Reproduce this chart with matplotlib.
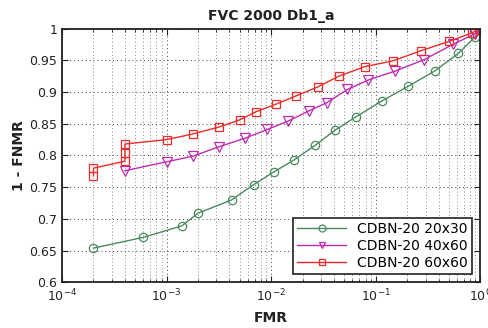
import matplotlib
matplotlib.use("Agg")
import matplotlib.pyplot as plt
from matplotlib.ticker import LogLocator, FixedLocator, FormatStrFormatter

plt.rcParams['font.family'] = ['DejaVu Sans']

fmr_20x30 = [2e-4, 6e-4, 1.4e-3, 2e-3, 4.2e-3, 6.8e-3, 0.0106, 0.0166, 0.0264, 0.041,
             0.065, 0.115, 0.205, 0.366, 0.62, 0.895, 1.0]
gar_20x30 = [0.654, 0.671, 0.689, 0.709, 0.730, 0.754, 0.774, 0.793, 0.816, 0.840,
             0.861, 0.886, 0.909, 0.933, 0.961, 0.987, 0.998]

fmr_40x60 = [4e-4, 1e-3, 1.8e-3, 3.2e-3, 5.6e-3, 9.2e-3, 0.0145, 0.0228, 0.034,
             0.0537, 0.0853, 0.154, 0.291, 0.548, 0.9, 1.0]
gar_40x60 = [0.776, 0.790, 0.799, 0.814, 0.827, 0.841, 0.854, 0.870, 0.883,
             0.904, 0.919, 0.933, 0.951, 0.975, 0.992, 1.0]

fmr_60x60 = [2e-4, 2e-4, 4e-4, 4e-4, 4e-4, 1e-3, 1.8e-3, 3.2e-3, 5e-3, 7.2e-3, 0.0112,
             0.0174, 0.028, 0.0445, 0.079, 0.146, 0.271, 0.508, 0.83, 1.0]
gar_60x60 = [0.768, 0.780, 0.791, 0.804, 0.818, 0.825, 0.834, 0.845, 0.856, 0.869, 0.881,
             0.894, 0.908, 0.925, 0.940, 0.949, 0.965, 0.980, 0.993, 1.0]

labels = ['CDBN-20 20x30', 'CDBN-20 40x60', 'CDBN-20 60x60']
y_ticks = [0.6, 0.65, 0.7, 0.75, 0.8, 0.85, 0.9, 0.95, 1.0]

fig = plt.figure(figsize=(4.88, 3.28), dpi=100)
ax = fig.add_axes([0.127, 0.139, 0.857, 0.774])

ax.plot(fmr_20x30, gar_20x30, '-o', color='#4a8a5e', mfc='none', mec='#4a8a5e',
        ms=6, lw=1, mew=0.9, label=labels[0])
ax.plot(fmr_40x60, gar_40x60, '-v', color='#c02cb0', mfc='none', mec='#c02cb0',
        ms=7, lw=1, mew=0.9, label=labels[1])
ax.plot(fmr_60x60, gar_60x60, '-s', color='#ee2a2a', mfc='none', mec='#ee2a2a',
        ms=6, lw=1, mew=0.9, label=labels[2])

ax.set_xscale('log')
ax.set_xlim(1e-4, 1)
ax.set_ylim(0.6, 1.0)
ax.xaxis.set_major_locator(LogLocator(base=10, numticks=10))
ax.xaxis.set_minor_locator(LogLocator(base=10, subs=range(2, 10), numticks=20))
ax.yaxis.set_major_locator(FixedLocator(y_ticks))
ax.yaxis.set_major_formatter(FormatStrFormatter('%g'))

ax.grid(True, which='major', axis='both', linestyle=(0, (1, 3)), color='#444444', lw=0.7)
ax.grid(True, which='minor', axis='x', linestyle=(0, (1, 3)), color='#666666', lw=0.6)
ax.tick_params(which='both', direction='in', top=True, right=True, labelsize=9,
               colors='#222222')
ax.tick_params(which='major', length=4)
ax.tick_params(which='minor', length=2)
for s in ax.spines.values():
    s.set_linewidth(1.3)
    s.set_color('#222222')

ax.set_title('FVC 2000 Db1_a', fontsize=10, fontweight='bold', color='#222222', pad=6)
ax.set_xlabel('FMR', fontsize=10, fontweight='bold', color='#222222', labelpad=5)
ax.set_ylabel('1 - FNMR', fontsize=10, fontweight='bold', color='#222222', labelpad=2)

leg = ax.legend(loc='lower right', fontsize=10, fancybox=False, framealpha=1,
                edgecolor='#222222', borderaxespad=0.6, handlelength=3.5,
                labelspacing=0.2, borderpad=0.3)
leg.get_frame().set_linewidth(1.2)
for h in leg.legend_handles:
    h.set_markersize(5)

fig.savefig('out.png', dpi=100)
